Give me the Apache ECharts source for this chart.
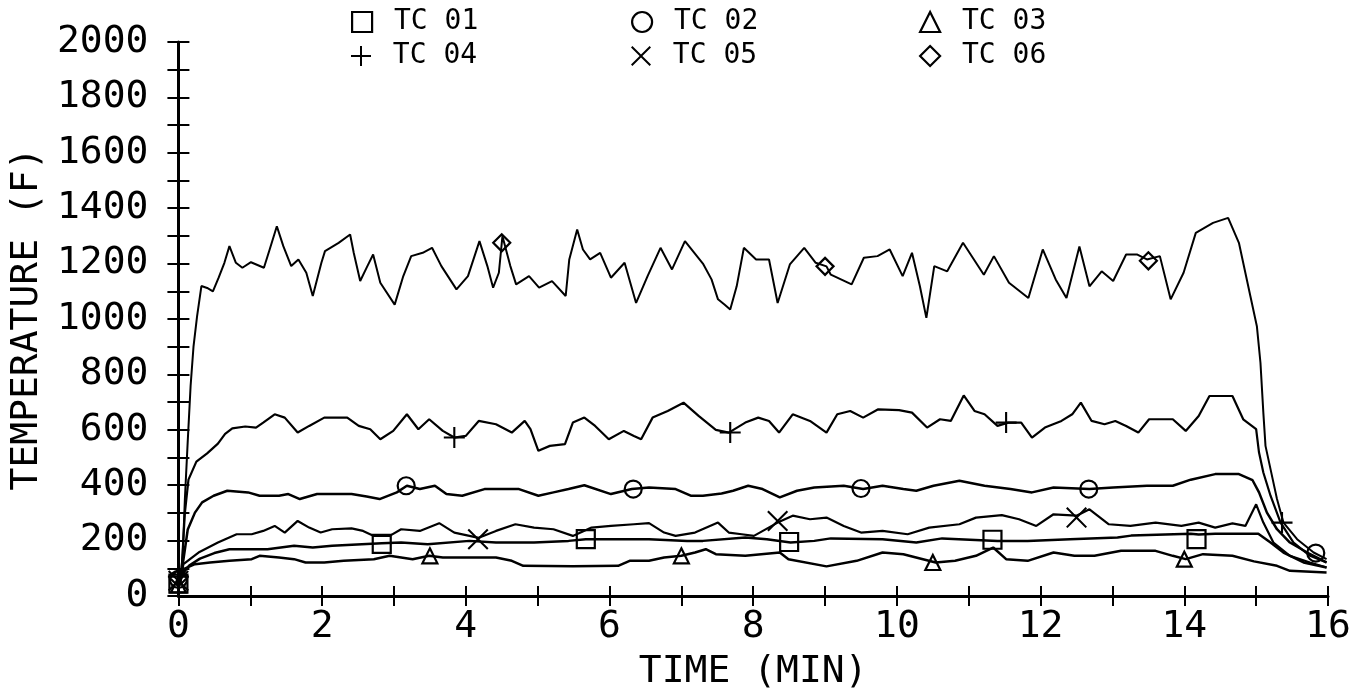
<!DOCTYPE html>
<html lang="en">
<head>
	<meta charset="UTF-8">
	<title>Temperature</title>
	<style type="text/css">
	html, body {
		margin: 0;
		padding: 0;
		background: #fff;
	}
	.chart {
		width: 1371px;
		height: 696px;
	}
</style>
</head>
<body>
	<div class="chart"></div>

	<script type="text/javascript" src="https://cdn.jsdelivr.net/npm/echarts@6/dist/echarts.min.js"></script>
	<script type="text/javascript">

		// curves: [time (min), temperature (F)]
		var tc01 = [[0.02,50],[0.06,80],[0.15,110],[0.30,135],[0.50,155],[0.71,169],[1.24,169],[1.61,181],[1.87,175],[2.14,181],[2.83,190],[3.10,193],[3.47,187],[4.05,199],[4.42,193],[4.95,193],[5.43,199],[5.67,205],[6.55,205],[7.08,199],[7.30,199],[7.89,211],[8.19,205],[8.52,193],[8.85,199],[9.08,208],[9.80,205],[10.27,193],[10.63,208],[11.40,199],[11.82,199],[12.41,205],[13.07,211],[13.26,218],[14.09,225],[14.20,222],[14.43,225],[15.03,225],[15.20,193],[15.38,157],[15.66,121],[15.98,103]];
		var tc02 = [[0.03,60],[0.08,150],[0.13,240],[0.23,301],[0.33,338],[0.49,362],[0.68,380],[0.97,374],[1.13,362],[1.40,362],[1.53,368],[1.69,350],[1.93,368],[2.41,368],[2.62,359],[2.80,350],[3.04,374],[3.18,398],[3.36,386],[3.57,398],[3.73,368],[3.95,362],[4.26,386],[4.74,386],[5.01,362],[5.22,374],[5.43,386],[5.65,400],[6.02,368],[6.31,386],[6.55,392],[6.92,386],[7.13,362],[7.30,362],[7.56,370],[7.72,380],[7.93,398],[8.13,386],[8.37,356],[8.61,380],[8.85,392],[9.26,398],[9.53,386],[9.80,398],[10.09,386],[10.27,380],[10.51,398],[10.87,416],[11.22,398],[11.58,386],[11.88,374],[12.18,392],[12.68,386],[13.01,392],[13.48,398],[13.84,398],[14.09,420],[14.43,440],[14.76,440],[14.95,418],[15.04,374],[15.15,301],[15.29,241],[15.47,193],[15.71,157],[15.98,121]];
		var tc03 = [[0.02,45],[0.07,97],[0.23,115],[0.44,121],[0.71,127],[1.02,133],[1.13,145],[1.40,139],[1.61,133],[1.77,121],[2.03,121],[2.30,127],[2.72,133],[2.94,145],[3.26,133],[3.49,145],[3.68,139],[4.42,139],[4.64,127],[4.80,109],[5.49,107],[6.12,109],[6.28,127],[6.55,127],[6.76,139],[7.00,145],[7.19,157],[7.34,169],[7.48,151],[7.89,145],[8.37,157],[8.49,133],[9.02,107],[9.44,127],[9.80,157],[10.09,151],[10.54,121],[10.81,127],[11.10,145],[11.34,175],[11.52,133],[11.82,127],[12.18,157],[12.47,145],[12.75,145],[13.12,163],[13.60,163],[13.84,145],[14.02,133],[14.26,151],[14.67,145],[14.97,125],[15.29,109],[15.47,91],[15.98,85]];
		var tc04 = [[0.03,60],[0.05,120],[0.09,300],[0.14,420],[0.25,485],[0.40,515],[0.55,550],[0.65,585],[0.75,605],[0.93,612],[1.08,608],[1.18,626],[1.34,656],[1.48,644],[1.66,590],[1.82,614],[2.03,644],[2.35,644],[2.51,614],[2.67,602],[2.81,566],[2.99,596],[3.18,656],[3.34,602],[3.49,638],[3.68,596],[3.84,572],[4.00,578],[4.18,632],[4.42,620],[4.64,590],[4.82,632],[4.90,602],[5.01,524],[5.17,542],[5.38,548],[5.49,626],[5.65,644],[5.80,614],[5.99,566],[6.20,596],[6.34,578],[6.44,566],[6.60,644],[6.81,668],[7.03,698],[7.24,650],[7.48,600],[7.66,590],[7.89,626],[8.07,644],[8.22,632],[8.36,590],[8.55,656],[8.79,632],[9.02,590],[9.17,656],[9.35,668],[9.53,644],[9.74,674],[10.03,671],[10.21,662],[10.42,608],[10.60,638],[10.75,632],[10.93,724],[11.08,668],[11.22,656],[11.40,614],[11.55,626],[11.73,626],[11.88,572],[12.06,608],[12.29,632],[12.44,656],[12.56,698],[12.71,632],[12.89,620],[13.04,632],[13.19,614],[13.36,590],[13.51,638],[13.84,638],[14.02,596],[14.20,650],[14.35,722],[14.67,722],[14.82,638],[15.00,602],[15.04,518],[15.10,446],[15.20,362],[15.34,265],[15.52,193],[15.75,145],[15.98,121]];
		var tc05 = [[0.03,60],[0.07,115],[0.28,157],[0.55,193],[0.81,223],[1.02,223],[1.18,235],[1.34,253],[1.48,229],[1.66,271],[1.82,247],[1.98,229],[2.14,241],[2.41,244],[2.57,235],[2.72,217],[2.94,217],[3.10,241],[3.36,235],[3.63,263],[3.84,229],[4.18,210],[4.42,235],[4.69,259],[4.95,247],[5.22,241],[5.49,217],[5.75,247],[6.02,253],[6.34,259],[6.55,263],[6.76,229],[6.92,217],[7.19,229],[7.51,265],[7.66,229],[7.84,223],[8.01,217],[8.34,265],[8.55,290],[8.79,277],[9.02,283],[9.26,253],[9.50,229],[9.80,235],[10.15,223],[10.45,247],[10.87,259],[11.10,283],[11.46,292],[11.70,277],[11.94,253],[12.18,295],[12.50,290],[12.68,313],[12.95,259],[13.25,253],[13.60,265],[13.96,253],[14.20,265],[14.43,247],[14.67,262],[14.85,253],[15.00,331],[15.10,265],[15.24,193],[15.47,145],[15.75,121],[15.98,103]];
		var tc06 = [[0.03,60],[0.06,150],[0.09,350],[0.13,560],[0.17,760],[0.21,900],[0.26,1010],[0.32,1119],[0.40,1112],[0.48,1100],[0.56,1149],[0.64,1203],[0.71,1263],[0.80,1203],[0.89,1185],[1.01,1205],[1.19,1185],[1.27,1251],[1.37,1335],[1.46,1263],[1.57,1191],[1.67,1215],[1.78,1167],[1.87,1083],[1.99,1203],[2.04,1245],[2.23,1275],[2.39,1305],[2.44,1239],[2.53,1137],[2.63,1191],[2.71,1233],[2.81,1131],[3.01,1052],[3.13,1155],[3.24,1227],[3.40,1239],[3.53,1257],[3.66,1191],[3.87,1107],[4.03,1155],[4.19,1281],[4.30,1191],[4.38,1113],[4.46,1167],[4.51,1299],[4.62,1191],[4.70,1125],[4.88,1155],[5.02,1113],[5.20,1137],[5.39,1083],[5.44,1215],[5.55,1323],[5.63,1251],[5.73,1215],[5.87,1239],[6.02,1149],[6.21,1203],[6.37,1058],[6.53,1155],[6.71,1257],[6.87,1179],[7.05,1281],[7.30,1200],[7.42,1143],[7.51,1071],[7.60,1052],[7.68,1034],[7.77,1118],[7.87,1257],[8.04,1215],[8.22,1215],[8.34,1058],[8.51,1197],[8.71,1257],[8.87,1203],[9.02,1190],[9.08,1160],[9.37,1125],[9.54,1221],[9.73,1227],[9.90,1251],[10.08,1155],[10.21,1239],[10.32,1118],[10.41,1004],[10.52,1191],[10.70,1172],[10.92,1275],[11.21,1160],[11.35,1227],[11.56,1131],[11.83,1076],[12.03,1251],[12.21,1143],[12.36,1076],[12.54,1262],[12.68,1118],[12.85,1172],[13.01,1137],[13.19,1233],[13.34,1233],[13.48,1215],[13.66,1227],[13.81,1071],[13.99,1167],[14.16,1311],[14.40,1347],[14.61,1365],[14.76,1275],[14.92,1082],[15.01,974],[15.06,842],[15.10,662],[15.13,542],[15.20,458],[15.29,350],[15.38,265],[15.57,205],[15.80,157],[15.98,133]];

		// plotted symbols along each curve
		var tc01Marks = [[0,45],[2.83,188],[5.67,205],[8.5,195],[11.33,203],[14.17,205]];
		var tc02Marks = [[0,60],[3.17,398],[6.33,386],[9.5,388],[12.67,386],[15.83,155]];
		var tc03Marks = [[0,40],[3.5,145],[7.0,145],[10.5,121],[14.0,133]];
		var tc04Marks = [[0,70],[3.84,572],[7.68,590],[11.52,626],[15.36,265]];
		var tc05Marks = [[0,55],[4.17,205],[8.34,271],[12.5,283]];
		var tc06Marks = [[0,65],[4.5,1275],[9.0,1190],[13.5,1210]];

		var names = ['TC 01', 'TC 02', 'TC 03', 'TC 04', 'TC 05', 'TC 06'];
		var curves = [tc01, tc02, tc03, tc04, tc05, tc06];
		var marks = [tc01Marks, tc02Marks, tc03Marks, tc04Marks, tc05Marks, tc06Marks];

		var FONT = '"DejaVu Sans Mono", monospace';
		var PLUS = 'path://M9,0h2v9h9v2h-9v9h-2v-9h-9v-2h9z';
		var CROSS = 'path://M0,1.4L1.4,0L10,8.6L18.6,0L20,1.4L11.4,10L20,18.6L18.6,20L10,11.4L1.4,20L0,18.6L8.6,10Z';
		var symbols = ['rect', 'circle', 'triangle', PLUS, CROSS, 'diamond'];
		var sizes = [18, 17, 15, 21, 21, 17];
		var widths = [2.5, 2.5, 2.5, 2.2, 2.2, 2];

		var hollow = {color: 'rgba(0,0,0,0)', borderColor: '#000', borderWidth: 2.2, opacity: 1};
		var solid = {color: '#000', borderWidth: 0, opacity: 1};

		function markStyle (i) {
			return (i === 3 || i === 4) ? solid : hollow;
		}

		var chart = echarts.init(document.getElementsByClassName("chart")[0]);

		// legend: 2 rows x 3 columns, one small legend per item
		var legendLeft = [351, 631, 919];
		var legendTop = [8, 42];
		var legends = [];
		names.forEach(function (name, i) {
			legends.push({
				left: legendLeft[i % 3],
				top: legendTop[Math.floor(i / 3)],
				padding: 0,
				itemWidth: 20,
				itemHeight: 20,
				formatter: ' {name}',
				textStyle: {color: '#000', fontFamily: FONT, fontSize: 28},
				data: [{name: name, icon: symbols[i], itemStyle: markStyle(i)}]
			});
		});

		var series = [];
		curves.forEach(function (data, i) {
			series.push({
				name: names[i],
				type: 'line',
				data: data,
				symbol: 'none',
				showSymbol: false,
				lineStyle: {color: '#000', width: widths[i]},
				itemStyle: {color: '#000'},
				z: 2
			});
		});
		marks.forEach(function (data, i) {
			series.push({
				name: names[i],
				type: 'scatter',
				data: data,
				symbol: symbols[i],
				symbolSize: sizes[i],
				itemStyle: markStyle(i),
				z: 3
			});
		});

		var axisText = {color: '#000', fontFamily: FONT, fontSize: 38};

		var option = {
			animation: false,
			backgroundColor: '#fff',
			legend: legends,
			grid: {left: 173, right: 43, top: 42, bottom: 100},
			xAxis: [{
				type: 'value',
				min: 0,
				max: 16,
				interval: 1,
				name: 'TIME (MIN)',
				nameLocation: 'middle',
				nameGap: 57,
				nameTextStyle: axisText,
				axisLine: {lineStyle: {color: '#000', width: 3}},
				axisTick: {length: 10, lineStyle: {color: '#000', width: 2}},
				axisLabel: {
					margin: 12,
					color: '#000', fontFamily: FONT, fontSize: 38,
					formatter: function (v) { return v % 2 === 0 ? String(v) : ''; }
				},
				splitLine: {show: false}
			}, {
				type: 'value',
				min: 0,
				max: 16,
				interval: 1,
				position: 'bottom',
				axisLine: {show: false},
				axisTick: {inside: true, length: 10, lineStyle: {color: '#000', width: 2}},
				axisLabel: {show: false},
				splitLine: {show: false}
			}],
			yAxis: [{
				type: 'value',
				min: 0,
				max: 2000,
				interval: 100,
				name: 'TEMPERATURE (F)',
				nameLocation: 'middle',
				nameGap: 123,
				nameTextStyle: axisText,
				axisLine: {show: true, lineStyle: {color: '#000', width: 3}},
				axisTick: {show: true, length: 11, lineStyle: {color: '#000', width: 2}},
				axisLabel: {
					margin: 30,
					color: '#000', fontFamily: FONT, fontSize: 38,
					formatter: function (v) { return v % 200 === 0 ? String(v) : ''; }
				},
				splitLine: {show: false}
			}, {
				type: 'value',
				min: 0,
				max: 2000,
				interval: 100,
				position: 'left',
				offset: 0,
				axisLine: {show: false},
				axisTick: {show: true, inside: true, length: 11, lineStyle: {color: '#000', width: 2}},
				axisLabel: {show: false},
				splitLine: {show: false}
			}],
			series: series
		};

		chart.setOption(option);

	</script>
</body>
</html>
